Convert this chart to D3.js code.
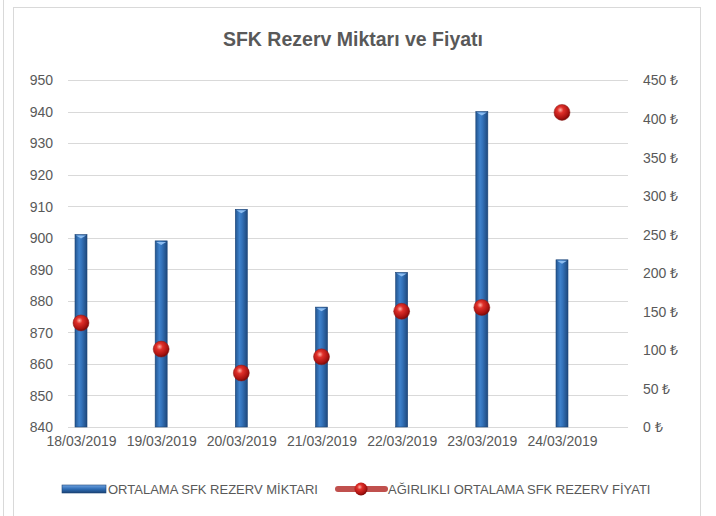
<!DOCTYPE html>
<html>
<head>
<meta charset="utf-8">
<script src="https://cdn.jsdelivr.net/npm/d3@7"></script>
<style>
  body { margin: 0; background: #fff; }
  text { font-family: "Liberation Sans", Arial, sans-serif; fill: #595959; }
</style>
</head>
<body>
<svg id="chart" width="716" height="516"></svg>
<script>
// data
var dates = ["18/03/2019", "19/03/2019", "20/03/2019", "21/03/2019", "22/03/2019", "23/03/2019", "24/03/2019"];
var miktar = [901, 899, 909, 878, 889, 940, 893];
var fiyat = [135, 101, 70, 91, 150, 155, 408];
var leftTicks = [840, 850, 860, 870, 880, 890, 900, 910, 920, 930, 940, 950];
var rightTicks = [0, 50, 100, 150, 200, 250, 300, 350, 400, 450];

var svg = d3.select("#chart");
var defs = svg.append("defs");

// cylinder look for the bars
var barGrad = defs.append("linearGradient").attr("id", "barGrad")
    .attr("x1", 0).attr("x2", 1).attr("y1", 0).attr("y2", 0);
barGrad.append("stop").attr("offset", "0%").attr("stop-color", "#22558f");
barGrad.append("stop").attr("offset", "35%").attr("stop-color", "#3f82cc");
barGrad.append("stop").attr("offset", "55%").attr("stop-color", "#3473bb");
barGrad.append("stop").attr("offset", "100%").attr("stop-color", "#1e487c");

// sphere look for the markers
var ballGrad = defs.append("radialGradient").attr("id", "ballGrad")
    .attr("cx", "40%").attr("cy", "35%").attr("r", "65%");
ballGrad.append("stop").attr("offset", "0%").attr("stop-color", "#ffb3a8");
ballGrad.append("stop").attr("offset", "30%").attr("stop-color", "#e0302a");
ballGrad.append("stop").attr("offset", "80%").attr("stop-color", "#a81210");
ballGrad.append("stop").attr("offset", "100%").attr("stop-color", "#7a0a08");

var legGrad = defs.append("linearGradient").attr("id", "legGrad")
    .attr("x1", 0).attr("x2", 0).attr("y1", 0).attr("y2", 1);
legGrad.append("stop").attr("offset", "0%").attr("stop-color", "#6fa3e0");
legGrad.append("stop").attr("offset", "50%").attr("stop-color", "#2f6db5");
legGrad.append("stop").attr("offset", "100%").attr("stop-color", "#1b4376");

// frame
svg.append("line").attr("x1", 3.5).attr("x2", 3.5).attr("y1", 0).attr("y2", 516)
    .attr("stroke", "#d9d9d9");
svg.append("rect").attr("x", 13.5).attr("y", 7.5).attr("width", 687).attr("height", 520)
    .attr("fill", "#fff").attr("stroke", "#d9d9d9");

var plotLeft = 68, plotRight = 628, plotTop = 80, plotBottom = 427;

var x = d3.scalePoint().domain(dates).range([81, 562]);
var yL = d3.scaleLinear().domain([840, 950]).range([plotBottom, plotTop]);
var yR = d3.scaleLinear().domain([0, 450]).range([plotBottom, plotTop]);

// title
svg.append("text")
    .attr("x", 353).attr("y", 46)
    .attr("text-anchor", "middle")
    .style("font-size", "19.5px").style("font-weight", "bold")
    .text("SFK Rezerv Miktarı ve Fiyatı");

// gridlines
svg.append("g").selectAll("line").data(leftTicks).enter().append("line")
    .attr("x1", plotLeft).attr("x2", plotRight)
    .attr("y1", function (d) { return Math.round(yL(d)) + 0.5; })
    .attr("y2", function (d) { return Math.round(yL(d)) + 0.5; })
    .attr("stroke", "#d9d9d9").attr("stroke-width", 1);

// left axis
var gL = svg.append("g").attr("transform", "translate(" + (plotLeft - 15) + ",0)")
    .call(d3.axisLeft(yL).tickValues(leftTicks).tickSize(0).tickPadding(0));
gL.select(".domain").remove();
gL.selectAll("text").style("font-size", "14px").attr("dy", "0.35em");

// right axis
var gR = svg.append("g").attr("transform", "translate(" + (plotRight + 15) + ",0)")
    .call(d3.axisRight(yR).tickValues(rightTicks).tickSize(0).tickPadding(0)
        .tickFormat(function (d) { return d + " ₺"; }));
gR.select(".domain").remove();
gR.selectAll("text").style("font-size", "14px").attr("dy", "0.35em");

// bottom axis labels
var gB = svg.append("g").attr("transform", "translate(0," + plotBottom + ")")
    .call(d3.axisBottom(x).tickSize(0).tickPadding(9));
gB.select(".domain").remove();
gB.selectAll("text").style("font-size", "14px");

// bars
var barW = 12;
var bars = svg.append("g").selectAll("g").data(miktar).enter().append("g");
bars.append("rect")
    .attr("x", function (d, i) { return x(dates[i]) - barW / 2; })
    .attr("y", function (d) { return yL(d); })
    .attr("width", barW)
    .attr("height", function (d) { return yL(840) - yL(d); })
    .attr("fill", "url(#barGrad)")
    .attr("stroke", "#1b4376").attr("stroke-width", 0.6);
bars.append("path")
    .attr("d", function (d, i) {
        var cx = x(dates[i]), top = yL(d);
        return "M" + (cx - barW / 2 + 1) + "," + (top + 1) + "L" + (cx + barW / 2 - 1) + "," + (top + 1) +
            "L" + cx + "," + (top + 4) + "Z";
    })
    .attr("fill", "#8dbdf0");

// markers (no connecting line)
svg.append("g").selectAll("circle").data(fiyat).enter().append("circle")
    .attr("cx", function (d, i) { return x(dates[i]); })
    .attr("cy", function (d) { return yR(d); })
    .attr("r", 8)
    .attr("fill", "url(#ballGrad)")
    .attr("stroke", "#8a1a16").attr("stroke-width", 0.5);

// legend
var leg = svg.append("g").attr("transform", "translate(0,489)");
leg.append("rect").attr("x", 62).attr("y", -4).attr("width", 44).attr("height", 8)
    .attr("fill", "url(#legGrad)").attr("stroke", "#1b4376").attr("stroke-width", 0.6);
leg.append("text").attr("x", 108).attr("y", 0).attr("dy", "0.35em")
    .style("font-size", "13px").text("ORTALAMA SFK REZERV MİKTARI");
leg.append("line").attr("x1", 338).attr("x2", 385).attr("y1", 0).attr("y2", 0)
    .attr("stroke", "#c0504d").attr("stroke-width", 6).attr("stroke-linecap", "round");
leg.append("circle").attr("cx", 361).attr("cy", 0).attr("r", 6.5)
    .attr("fill", "url(#ballGrad)");
leg.append("text").attr("x", 388).attr("y", 0).attr("dy", "0.35em")
    .style("font-size", "13px").text("AĞIRLIKLI ORTALAMA SFK REZERV FİYATI");
</script>
</body>
</html>
